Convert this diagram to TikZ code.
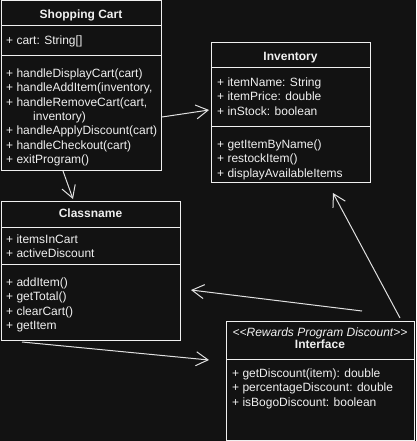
\documentclass[tikz,border=0pt]{standalone}
\usepackage{fontspec}
\setmainfont{Liberation Sans}
\usetikzlibrary{arrows.meta}
\definecolor{bg}{HTML}{121212}
\definecolor{fg}{HTML}{F0F0F0}
\definecolor{ln}{HTML}{E0E0E0}
\begin{document}
\begin{tikzpicture}[x=1pt,y=-1pt,
  comp/.style={draw=fg, fill=bg, line width=1pt, anchor=north west, inner sep=0pt, outer sep=0pt},
  txt/.style={anchor=base west, inner sep=0pt, text=fg, font=\fontsize{12}{14.4}\selectfont},
  ttl/.style={anchor=base, inner sep=0pt, text=fg, font=\fontsize{12}{14.4}\selectfont\bfseries},
  stereo/.style={anchor=base, inner sep=0pt, text=fg, font=\fontsize{12}{14.4}\selectfont\itshape},
  conn/.style={draw=ln, line width=1pt, -{Straight Barb[length=12pt,width=14pt]}}]
\fill[bg] (0,0) rectangle (416,441);
\useasboundingbox (0,0) rectangle (416,441);

% Shopping Cart
\node[comp, minimum width=160pt, minimum height=25pt] (sch) at (1,1) {};
\node[comp, minimum width=160pt, minimum height=30pt] (sca) at (1,26) {};
\node[comp, minimum width=160pt, minimum height=114pt] (scm) at (1,56) {};
\node[ttl] (sct) at (81,18.5) {Shopping Cart};
\node[txt] (sc1) at (6,44.3) {+ cart: String[]};
\node[txt] (sc2) at (6,77.3) {+ handleDisplayCart(cart)};
\node[txt] (sc3) at (6,91.7) {+ handleAddItem(inventory,};
\node[txt] (sc4) at (6,106.1) {+ handleRemoveCart(cart,};
\node[txt] (sc5) at (33,120.5) {inventory)};
\node[txt] (sc6) at (6,134.9) {+ handleApplyDiscount(cart)};
\node[txt] (sc7) at (6,149.3) {+ handleCheckout(cart)};
\node[txt] (sc8) at (6,163.7) {+ exitProgram()};

% Inventory
\node[comp, minimum width=159pt, minimum height=25pt] (invh) at (211,43) {};
\node[comp, minimum width=159pt, minimum height=58pt] (inva) at (211,68) {};
\node[comp, minimum width=159pt, minimum height=56pt] (invm) at (211,126) {};
\node[ttl] (invt) at (290.5,60.3) {Inventory};
\node[txt] (inv1) at (217,86.3) {+ itemName: String};
\node[txt] (inv2) at (217,100.7) {+ itemPrice: double};
\node[txt] (inv3) at (217,115.1) {+ inStock: boolean};
\node[txt] (inv4) at (217,148.3) {+ getItemByName()};
\node[txt] (inv5) at (217,162.7) {+ restockItem()};
\node[txt] (inv6) at (217,177.1) {+ displayAvailableItems};

% Classname
\node[comp, minimum width=179pt, minimum height=26pt] (cnh) at (1,201) {};
\node[comp, minimum width=179pt, minimum height=37pt] (cna) at (1,227) {};
\node[comp, minimum width=179pt, minimum height=76pt] (cnm) at (1,264) {};
\node[ttl] (cnt) at (90.5,217.3) {Classname};
\node[txt] (cn1) at (6,243.3) {+ itemsInCart};
\node[txt] (cn2) at (6,257.7) {+ activeDiscount};
\node[txt] (cn3) at (6,286.3) {+ addItem()};
\node[txt] (cn4) at (6,300.7) {+ getTotal()};
\node[txt] (cn5) at (6,315.1) {+ clearCart()};
\node[txt] (cn6) at (6,329.5) {+ getItem};

% Interface
\node[comp, minimum width=188pt, minimum height=38pt] (ifh) at (226,321) {};
\node[comp, minimum width=188pt, minimum height=81pt] (ifb) at (226,359) {};
\node[stereo] (ifs) at (320,336) {{<}{<}Rewards Program Discount{>}{>}};
\node[ttl] (ift) at (320,348.6) {Interface};
\node[txt] (if1) at (232,377.3) {+ getDiscount(item): double};
\node[txt] (if2) at (232,391.7) {+ percentageDiscount: double};
\node[txt] (if3) at (232,406.1) {+ isBogoDiscount: boolean};

% connectors
\coordinate (a1s) at (63,171);
\coordinate (a1e) at (73,199);
\coordinate (a2s) at (162,117);
\coordinate (a2e) at (209,110);
\coordinate (a3s) at (362,311);
\coordinate (a3e) at (191,290);
\coordinate (a4s) at (22,342);
\coordinate (a4e) at (209,360);
\coordinate (a5s) at (400,318);
\coordinate (a5e) at (333,193);
\draw[conn] (a1s) -- (a1e);
\draw[conn] (a2s) -- (a2e);
\draw[conn] (a3s) -- (a3e);
\draw[conn] (a4s) -- (a4e);
\draw[conn] (a5s) -- (a5e);
\end{tikzpicture}
\end{document}
